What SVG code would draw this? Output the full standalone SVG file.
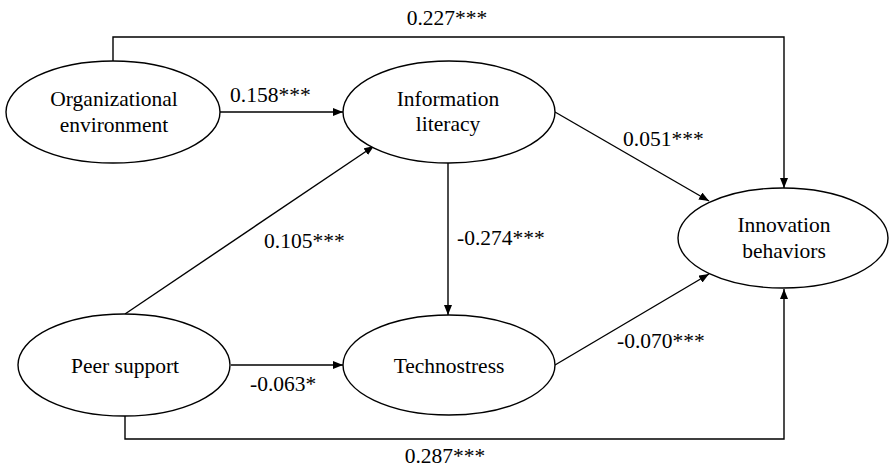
<svg xmlns="http://www.w3.org/2000/svg" width="889" height="469" viewBox="0 0 889 469">
<style>
.n{fill:#fff;stroke:#000;stroke-width:1.4}
.c{fill:none;stroke:#000;stroke-width:1.4}
.t{font-family:'Liberation Serif',serif;font-size:21.5px;fill:#000}
.m{text-anchor:middle}
</style>
<defs>
<marker id="ah" viewBox="0 0 10 8" refX="10" refY="4" markerWidth="10" markerHeight="8" markerUnits="userSpaceOnUse" orient="auto">
<path d="M0,0 L10,4 L0,8 Z" fill="#000"/>
</marker>
</defs>
<rect width="889" height="469" fill="#fff"/>
<g id="connectors">
<path class="c" d="M113,61 V37 H784 V188" marker-end="url(#ah)"/>
<path class="c" d="M125,415 V439 H784 V289" marker-end="url(#ah)"/>
<line class="c" x1="220" y1="112" x2="343" y2="112" marker-end="url(#ah)"/>
<line class="c" x1="231" y1="365" x2="343" y2="365" marker-end="url(#ah)"/>
<line class="c" x1="448" y1="163" x2="448" y2="315" marker-end="url(#ah)"/>
<line class="c" x1="125" y1="314" x2="374" y2="146" marker-end="url(#ah)"/>
<line class="c" x1="555" y1="112" x2="709" y2="201" marker-end="url(#ah)"/>
<line class="c" x1="555" y1="365" x2="709" y2="274" marker-end="url(#ah)"/>
<text class="t m" x="447" y="25">0.227***</text>
<text class="t" x="230" y="102">0.158***</text>
<text class="t" x="623" y="146">0.051***</text>
<text class="t" x="264" y="248">0.105***</text>
<text class="t" x="457" y="245">-0.274***</text>
<text class="t" x="250" y="391">-0.063*</text>
<text class="t" x="617" y="348">-0.070***</text>
<text class="t m" x="445" y="463">0.287***</text>
</g>
<g id="org">
<ellipse class="n" cx="113" cy="112" rx="107" ry="51"/>
<text class="t m" x="114" y="106">Organizational</text>
<text class="t m" x="114" y="132">environment</text>
</g>
<g id="info">
<ellipse class="n" cx="449" cy="112" rx="106" ry="51"/>
<text class="t m" x="448" y="106">Information</text>
<text class="t m" x="448" y="131">literacy</text>
</g>
<g id="innov">
<ellipse class="n" cx="783" cy="238" rx="105" ry="50"/>
<text class="t m" x="784" y="232">Innovation</text>
<text class="t m" x="784" y="258">behaviors</text>
</g>
<g id="peer">
<ellipse class="n" cx="124" cy="365" rx="106" ry="51"/>
<text class="t m" x="125" y="373">Peer support</text>
</g>
<g id="techno">
<ellipse class="n" cx="449" cy="365" rx="106" ry="50"/>
<text class="t m" x="449" y="373">Technostress</text>
</g>
</svg>
